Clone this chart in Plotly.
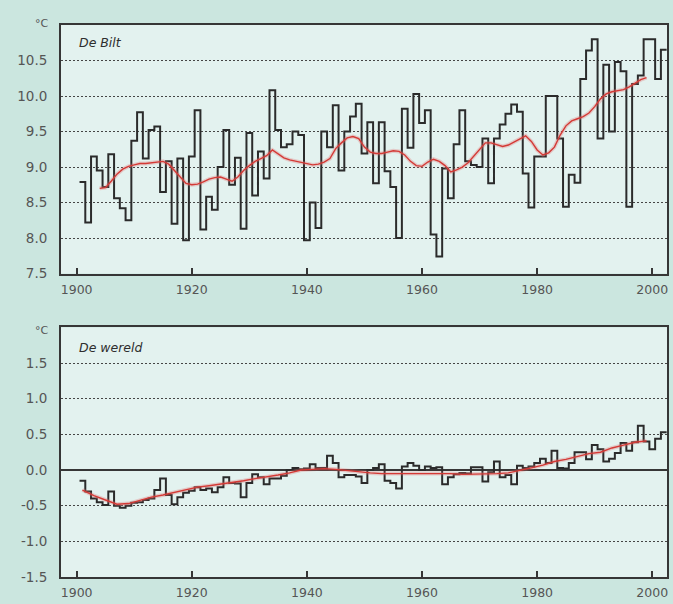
import plotly.graph_objects as go

# ---------------- data ----------------
years = list(range(1901, 2003))

debilt_temp = [
    8.79, 8.22, 9.15, 8.95, 8.72, 9.18, 8.56, 8.42, 8.25, 9.37,   # 1901-1910
    9.77, 9.12, 9.52, 9.57, 8.65, 9.08, 8.20, 9.12, 7.97, 9.15,   # 1911-1920
    9.80, 8.12, 8.58, 8.40, 9.00, 9.52, 8.75, 9.13, 8.13, 9.48,   # 1921-1930
    8.60, 9.22, 8.84, 10.08, 9.52, 9.28, 9.32, 9.50, 9.45, 7.97,  # 1931-1940
    8.50, 8.14, 9.50, 9.28, 9.87, 8.95, 9.50, 9.71, 9.89, 9.19,   # 1941-1950
    9.63, 8.77, 9.63, 8.94, 8.72, 8.00, 9.82, 9.27, 10.03, 9.62,  # 1951-1960
    9.80, 8.05, 7.74, 8.98, 8.56, 9.32, 9.80, 9.08, 9.03, 9.00,   # 1961-1970
    9.40, 8.77, 9.40, 9.60, 9.75, 9.88, 9.78, 8.91, 8.43, 9.15,   # 1971-1980
    9.15, 10.00, 10.00, 9.40, 8.44, 8.89, 8.78, 10.24, 10.64, 10.80,  # 1981-1990
    9.40, 10.44, 9.50, 10.48, 10.35, 8.44, 10.17, 10.29, 10.80, 10.80,  # 1991-2000
    10.24, 10.65,                                                  # 2001-2002
]

world_anom = [
    -0.15, -0.30, -0.40, -0.45, -0.49, -0.30, -0.50, -0.53, -0.50, -0.46,  # 1901-1910
    -0.45, -0.42, -0.40, -0.28, -0.12, -0.35, -0.48, -0.38, -0.32, -0.29,  # 1911-1920
    -0.24, -0.28, -0.26, -0.31, -0.24, -0.10, -0.18, -0.19, -0.38, -0.18,  # 1921-1930
    -0.06, -0.10, -0.20, -0.12, -0.12, -0.08, 0.00, 0.03, 0.01, 0.02,      # 1931-1940
    0.08, 0.03, 0.03, 0.20, 0.10, -0.10, -0.07, -0.07, -0.09, -0.18,       # 1941-1950
    0.00, 0.03, 0.08, -0.15, -0.18, -0.26, 0.05, 0.10, 0.06, 0.00,         # 1951-1960
    0.05, 0.03, 0.04, -0.20, -0.10, -0.06, -0.04, -0.05, 0.04, 0.04,       # 1961-1970
    -0.16, -0.03, 0.12, -0.10, -0.07, -0.20, 0.06, 0.03, 0.05, 0.10,       # 1971-1980
    0.16, 0.10, 0.27, 0.03, 0.02, 0.10, 0.25, 0.25, 0.15, 0.35,            # 1981-1990
    0.29, 0.12, 0.16, 0.24, 0.38, 0.27, 0.39, 0.62, 0.40, 0.29,            # 1991-2000
    0.44, 0.53,                                                            # 2001-2002
]

debilt_trend_years = list(range(1904, 2000))
debilt_trend = [
    8.70, 8.71, 8.80, 8.90, 8.97, 9.01, 9.03, 9.05, 9.05, 9.06,
    9.07, 9.08, 9.04, 8.95, 8.86, 8.77, 8.75, 8.76, 8.79, 8.83,
    8.85, 8.86, 8.83, 8.80, 8.86, 8.95, 9.02, 9.08, 9.12, 9.16,
    9.24, 9.18, 9.13, 9.10, 9.08, 9.06, 9.04, 9.03, 9.04, 9.07,
    9.12, 9.26, 9.34, 9.41, 9.43, 9.40, 9.28, 9.21, 9.19, 9.19,
    9.21, 9.23, 9.22, 9.17, 9.08, 9.02, 9.01, 9.07, 9.11, 9.08,
    9.02, 8.93, 8.96, 9.00, 9.06, 9.15, 9.24, 9.34, 9.34, 9.32,
    9.29, 9.31, 9.35, 9.40, 9.44, 9.36, 9.24, 9.17, 9.20, 9.28,
    9.45, 9.58, 9.65, 9.68, 9.71, 9.76, 9.85, 9.96, 10.03, 10.06,
    10.07, 10.09, 10.13, 10.18, 10.23, 10.26,
]

world_trend_years = list(range(1901, 2000, 2))
world_trend = [
    -0.28, -0.36, -0.42, -0.48, -0.47, -0.42, -0.38, -0.35, -0.31, -0.27,
    -0.24, -0.22, -0.20, -0.18, -0.15, -0.12, -0.10, -0.07, -0.04, 0.00,
    0.01, 0.02, 0.01, -0.01, -0.03, -0.04, -0.05, -0.05, -0.04, -0.04,
    -0.04, -0.05, -0.05, -0.06, -0.06, -0.05, -0.05, -0.04, -0.01, 0.03,
    0.07, 0.12, 0.15, 0.19, 0.23, 0.25, 0.31, 0.35, 0.39, 0.41,
]

x_tickvals = [1900, 1920, 1940, 1960, 1980, 2000]
x_ticktext = ["1900", "1920", "1940", "1960", "1980", "2000"]
debilt_tickvals = [7.5, 8.0, 8.5, 9.0, 9.5, 10.0, 10.5]
debilt_ticktext = ["7.5", "8.0", "8.5", "9.0", "9.5", "10.0", "10.5"]
world_tickvals = [-1.5, -1.0, -0.5, 0.0, 0.5, 1.0, 1.5]
world_ticktext = ["-1.5", "-1.0", "-0.5", "0.0", "0.5", "1.0", "1.5"]

panel_titles = ["De Bilt", "De wereld"]
unit_label = "°C"


def step_xy(yrs, vals):
    # each annual value is drawn as a flat step centred on its year
    xs = [y - 0.5 for y in yrs] + [yrs[-1] + 0.5]
    ys = list(vals) + [vals[-1]]
    return xs, ys


# ---------------- style ----------------
INK = "#363636"
STEP = "#2b2b2b"
RED = "#d43a36"
HALO = "rgba(226, 110, 110, 0.30)"
LABEL = "#555555"
FONT = "DejaVu Sans"

fig = go.Figure()

for (yrs, vals, tyrs, tvals, xa, ya) in [
    (years, debilt_temp, debilt_trend_years, debilt_trend, "x", "y"),
    (years, world_anom, world_trend_years, world_trend, "x2", "y2"),
]:
    sx, sy = step_xy(yrs, vals)
    fig.add_trace(go.Scatter(x=sx, y=sy, mode="lines", line=dict(color=STEP, width=2.0, shape="hv"),
                             xaxis=xa, yaxis=ya, hoverinfo="skip"))
    fig.add_trace(go.Scatter(x=tyrs, y=tvals, mode="lines", line=dict(color=HALO, width=4.0),
                             xaxis=xa, yaxis=ya, hoverinfo="skip"))
    fig.add_trace(go.Scatter(x=tyrs, y=tvals, mode="lines", line=dict(color=RED, width=1.4),
                             xaxis=xa, yaxis=ya, hoverinfo="skip"))

W, H = 673, 604
ML, MR, MT, MB = 61, 4, 25, 26
plot_h = H - MT - MB
top_panel_bottom_px = 274
bottom_panel_top_px = 328
dom_top = [(H - MB - top_panel_bottom_px) / plot_h, 1.0]
dom_bot = [0.0, (H - MB - bottom_panel_top_px) / plot_h]

x_range = [1897.28, 2002.56]

xaxis_common = dict(
    range=x_range, showline=True, linecolor=INK, linewidth=2, mirror=True,
    ticks="inside", ticklen=6, tickwidth=2, tickcolor=INK,
    tickvals=x_tickvals, ticktext=x_ticktext, showgrid=False, zeroline=False,
    tickfont=dict(family=FONT, size=12.5, color=LABEL), ticklabelstandoff=3,
)
yaxis_common = dict(
    showline=True, linecolor=INK, linewidth=2, mirror=True, ticks="",
    showgrid=True, gridcolor="#454545", gridwidth=1, griddash="2px,2px",
    tickfont=dict(family=FONT, size=13.5, color=LABEL), ticklabelstandoff=9,
)

fig.update_layout(
    width=W, height=H,
    margin=dict(l=ML, r=MR, t=MT, b=MB, pad=0),
    paper_bgcolor="#cbe6df",
    plot_bgcolor="#e3f2ef",
    showlegend=False,
    xaxis=dict(domain=[0, 1], anchor="y", **xaxis_common),
    yaxis=dict(domain=dom_top, anchor="x", range=[7.5, 11.0], zeroline=False,
               tickvals=debilt_tickvals, ticktext=debilt_ticktext, **yaxis_common),
    xaxis2=dict(domain=[0, 1], anchor="y2", **xaxis_common),
    yaxis2=dict(domain=dom_bot, anchor="x2", range=[-1.5, 2.0],
                zeroline=True, zerolinecolor=INK, zerolinewidth=2,
                tickvals=world_tickvals, ticktext=world_ticktext, **yaxis_common),
)


def px_to_paper_x(px):
    return (px - ML) / (W - ML - MR)


def px_to_paper_y(py):
    return (H - MB - py) / plot_h


annotations = [
    dict(text=unit_label, x=px_to_paper_x(42), y=px_to_paper_y(23)),
    dict(text=unit_label, x=px_to_paper_x(42), y=px_to_paper_y(331)),
    dict(text="<i>" + panel_titles[0] + "</i>", x=px_to_paper_x(77), y=px_to_paper_y(42.5), xanchor="left",
         font=dict(family=FONT, size=12.5, color="#2e2e2e")),
    dict(text="<i>" + panel_titles[1] + "</i>", x=px_to_paper_x(77), y=px_to_paper_y(348), xanchor="left",
         font=dict(family=FONT, size=12.5, color="#2e2e2e")),
]
for a in annotations:
    a.setdefault("xanchor", "center")
    a.setdefault("font", dict(family=FONT, size=11, color=LABEL))
    fig.add_annotation(xref="paper", yref="paper", yanchor="middle", showarrow=False, **a)

fig.write_html(
    "out.html",
    config={"displayModeBar": False},
    post_script="document.body.style.margin='0px';document.body.style.overflow='hidden';",
)
